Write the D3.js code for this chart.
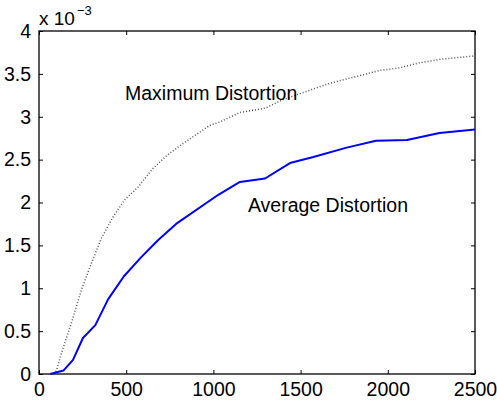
<!DOCTYPE html>
<html>
<head>
<meta charset="utf-8">
<script src="https://cdn.jsdelivr.net/npm/d3@7"></script>
<style>
  body { margin: 0; background: #fff; }
  svg { display: block; }
  text { font-family: "Liberation Sans", Arial, Helvetica, sans-serif; fill: #000; }
</style>
</head>
<body>
<div id="chart"></div>
<script>
// values (y in units of 1e-3)
const avgX = [65, 140, 195, 252, 323, 396, 487, 585, 682, 786, 1028, 1152, 1296, 1439, 1573, 1764, 1932, 2110, 2296, 2500];
const avgY = [0, 0.04, 0.165, 0.42, 0.57, 0.87, 1.14, 1.36, 1.56, 1.75, 2.09, 2.24, 2.28, 2.46, 2.53, 2.64, 2.72, 2.73, 2.81, 2.85];

const maxX = [85, 100, 128, 185, 243, 300, 357, 424, 491, 568, 654, 740, 828, 980, 1038, 1152, 1296, 1400, 1497, 1666, 1860, 1954, 2070, 2184, 2299, 2500];
const maxY = [0, 0.04, 0.24, 0.59, 0.98, 1.29, 1.58, 1.83, 2.03, 2.18, 2.40, 2.56, 2.69, 2.90, 2.94, 3.05, 3.10, 3.20, 3.27, 3.39, 3.49, 3.54, 3.57, 3.63, 3.67, 3.71];

const xTicks = [0, 500, 1000, 1500, 2000, 2500];
const yTicks = [0, 0.5, 1, 1.5, 2, 2.5, 3, 3.5, 4];

const labels = [
  {text: "Maximum Distortion", x: 493, y: 3.19},
  {text: "Average Distortion", x: 1198, y: 1.89}
];

// dimensions
var W = 497, H = 403;
var margin = {top: 31, right: 22, bottom: 29, left: 39};
var width = W - margin.left - margin.right;
var height = H - margin.top - margin.bottom;

var svg = d3.select("#chart").append("svg")
    .attr("width", W)
    .attr("height", H)
  .append("g")
    .attr("transform", "translate(" + margin.left + "," + margin.top + ")");

var x = d3.scaleLinear().domain([0, 2500]).range([0, width]);
var y = d3.scaleLinear().domain([0, 4]).range([height, 0]);

var fs = 19.5;

// axes: ticks point inward, mirrored on top and right
svg.append("g")
    .attr("transform", "translate(0," + height + ")")
    .call(d3.axisBottom(x).tickValues(xTicks).tickSizeInner(-4).tickSizeOuter(0).tickPadding(8).tickFormat(d3.format("d")));
svg.append("g")
    .call(d3.axisTop(x).tickValues(xTicks).tickSizeInner(-4).tickSizeOuter(0).tickFormat(""));
svg.append("g")
    .call(d3.axisLeft(y).tickValues(yTicks).tickSizeInner(-4).tickSizeOuter(0).tickPadding(8).tickFormat(d3.format("")));
svg.append("g")
    .attr("transform", "translate(" + width + ",0)")
    .call(d3.axisRight(y).tickValues(yTicks).tickSizeInner(-4).tickSizeOuter(0).tickFormat(""));

svg.selectAll(".tick text")
    .style("font-size", fs + "px")
    .style("font-family", "'Liberation Sans', Arial, sans-serif");
svg.selectAll(".tick line").attr("stroke", "#000");
svg.selectAll(".domain").remove();

// box
svg.append("rect")
    .attr("width", width)
    .attr("height", height)
    .attr("fill", "none")
    .attr("stroke", "#000")
    .attr("stroke-width", 1.3);

// lines
var line = d3.line().x(d => x(d[0])).y(d => y(d[1]));

svg.append("path")
    .datum(d3.zip(maxX, maxY))
    .attr("fill", "none")
    .attr("stroke", "#555")
    .attr("stroke-width", 1.5)
    .attr("stroke-dasharray", "1,2")
    .attr("d", line);

svg.append("path")
    .datum(d3.zip(avgX, avgY))
    .attr("fill", "none")
    .attr("stroke", "#0000ff")
    .attr("stroke-width", 2)
    .attr("stroke-linejoin", "round")
    .attr("d", line);

// annotations
svg.selectAll("text.lbl")
    .data(labels)
    .enter().append("text")
    .attr("class", "lbl")
    .attr("x", d => x(d.x))
    .attr("y", d => y(d.y))
    .style("font-size", "19.5px")
    .text(d => d.text);

// exponent
var ex = svg.append("text")
    .attr("x", 0)
    .attr("y", -6)
    .style("font-size", "19px");
ex.append("tspan").text("x 10");
ex.append("tspan")
    .attr("dy", -10)
    .attr("dx", 2)
    .style("font-size", "13px")
    .text("\u22123");
</script>
</body>
</html>
